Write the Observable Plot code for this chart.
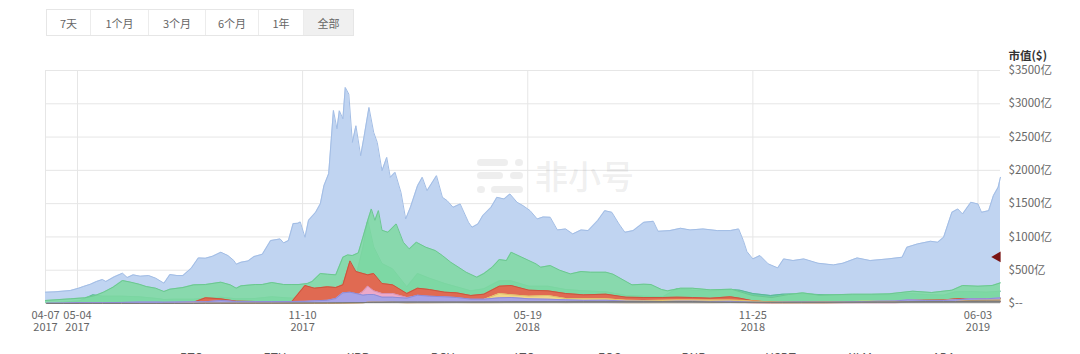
<!DOCTYPE html>
<html><head><meta charset="utf-8">
<script src="https://cdn.jsdelivr.net/npm/d3@7"></script>
<script src="https://cdn.jsdelivr.net/npm/@observablehq/plot@0.6"></script>
<style>
body{margin:0;width:1080px;height:354px;overflow:hidden;background:#fff;position:relative;font-family:"Noto Sans CJK SC","Microsoft YaHei",sans-serif}
.btns{position:absolute;left:46px;top:9px;height:27px;display:flex;border:1px solid #e6e6e6;box-sizing:border-box}
.btns div{height:100%;display:flex;align-items:center;justify-content:center;font-size:11px;color:#666;border-left:1px solid #ececec;box-sizing:border-box}
.btns div:first-child{border-left:none}
.btns div.on{background:#f0f0f0}
#chart{position:absolute;left:0;top:40px}
.wm{position:absolute;left:477px;top:156px;pointer-events:none;z-index:5}
.wm .t{position:absolute;left:58px;top:0;font-size:33px;line-height:38px;color:rgba(160,160,160,0.18);white-space:nowrap;font-weight:500}
.wm .b{position:absolute;height:7px;border-radius:4px;background:rgba(160,160,160,0.18)}
.legend{position:absolute;top:347px;left:0;width:1080px;height:20px}
.legend .it{position:absolute;display:flex;align-items:center;font-size:12px;line-height:16px;color:#555}
.legend .sw{width:12px;height:12px;margin-right:6px;border-radius:2px;margin-top:8px}
</style></head>
<body>
<div class="btns">
  <div style="width:43px">7天</div><div style="width:58px">1个月</div><div style="width:57px">3个月</div><div style="width:53px">6个月</div><div style="width:45px">1年</div><div class="on" style="width:50px">全部</div>
</div>
<div id="chart"></div>
<div class="wm">
  <div class="b" style="left:0;top:3px;width:31px"></div><div class="b" style="left:38px;top:3px;width:8px"></div>
  <div class="b" style="left:0;top:16px;width:26px"></div><div class="b" style="left:33px;top:16px;width:13px"></div>
  <div class="b" style="left:0;top:30px;width:8px"></div><div class="b" style="left:14px;top:30px;width:32px"></div>
  <div class="t">非小号</div>
</div>
<div class="legend" id="legend"></div>
<script>
// ---------- data ----------
const btcDates = ["2017-04-07","2017-04-15","2017-04-28","2017-05-05","2017-05-09","2017-05-15","2017-05-20","2017-05-25","2017-05-28","2017-06-04","2017-06-11","2017-06-15","2017-06-20","2017-06-26","2017-07-03","2017-07-09","2017-07-16","2017-07-21","2017-07-27","2017-08-01","2017-08-08","2017-08-14","2017-08-20","2017-08-26","2017-09-02","2017-09-08","2017-09-13","2017-09-15","2017-09-19","2017-09-25","2017-09-30","2017-10-07","2017-10-14","2017-10-22","2017-10-25","2017-10-29","2017-11-02","2017-11-06","2017-11-08","2017-11-12","2017-11-15","2017-11-21","2017-11-25","2017-11-28","2017-12-02","2017-12-06","2017-12-09","2017-12-11","2017-12-14","2017-12-16","2017-12-19","2017-12-22","2017-12-25","2017-12-29","2018-01-01","2018-01-05","2018-01-09","2018-01-12","2018-01-16","2018-01-20","2018-01-23","2018-01-27","2018-02-01","2018-02-05","2018-02-09","2018-02-15","2018-02-19","2018-02-23","2018-03-03","2018-03-08","2018-03-12","2018-03-17","2018-03-23","2018-03-30","2018-04-02","2018-04-07","2018-04-11","2018-04-18","2018-04-23","2018-04-29","2018-05-04","2018-05-10","2018-05-15","2018-05-21","2018-05-27","2018-06-01","2018-06-07","2018-06-13","2018-06-20","2018-06-26","2018-07-03","2018-07-09","2018-07-17","2018-07-23","2018-07-29","2018-08-04","2018-08-09","2018-08-16","2018-08-25","2018-09-02","2018-09-06","2018-09-16","2018-09-25","2018-10-03","2018-10-14","2018-10-26","2018-11-06","2018-11-13","2018-11-17","2018-11-20","2018-11-25","2018-12-01","2018-12-08","2018-12-16","2018-12-21","2018-12-29","2019-01-07","2019-01-19","2019-02-01","2019-02-09","2019-02-21","2019-03-04","2019-03-19","2019-03-31","2019-04-04","2019-04-13","2019-04-24","2019-04-30","2019-05-05","2019-05-12","2019-05-17","2019-05-21","2019-05-28","2019-06-03","2019-06-06","2019-06-12","2019-06-16","2019-06-20","2019-06-22"];
const btcCap = [170,175,195,230,255,290,330,360,330,400,455,390,430,410,420,380,305,435,420,420,530,685,680,710,770,720,645,590,620,640,705,740,945,970,910,945,1200,1205,1225,995,1250,1370,1500,1770,1950,2900,2625,2895,2775,3245,3145,2420,2670,2220,2520,2945,2570,2420,1995,2195,1895,1970,1670,1270,1445,1770,1895,1695,1920,1595,1545,1445,1495,1220,1145,1195,1320,1445,1595,1570,1645,1520,1470,1395,1270,1300,1295,1105,1120,1045,1105,1095,1245,1395,1370,1195,1070,1095,1220,1235,1085,1095,1130,1105,1120,1095,1095,1120,945,780,670,720,595,535,670,645,670,605,580,605,685,645,670,695,845,895,935,920,995,1370,1420,1345,1520,1495,1370,1395,1620,1745,1895];

const ethDates = ["2017-04-07","2017-04-28","2017-05-10","2017-05-19","2017-05-26","2017-06-03","2017-06-11","2017-06-18","2017-06-25","2017-07-01","2017-07-09","2017-07-16","2017-07-21","2017-08-01","2017-08-10","2017-08-20","2017-09-02","2017-09-10","2017-09-15","2017-09-19","2017-10-01","2017-10-07","2017-10-15","2017-10-25","2017-11-01","2017-11-07","2017-11-14","2017-11-18","2017-11-25","2017-12-01","2017-12-08","2017-12-14","2017-12-18","2017-12-22","2017-12-27","2017-12-31","2018-01-04","2018-01-07","2018-01-10","2018-01-13","2018-01-16","2018-01-21","2018-01-28","2018-02-03","2018-02-08","2018-02-14","2018-02-22","2018-03-02","2018-03-08","2018-03-15","2018-03-22","2018-03-28","2018-04-06","2018-04-12","2018-04-19","2018-04-25","2018-05-01","2018-05-05","2018-05-14","2018-05-26","2018-05-30","2018-06-07","2018-06-15","2018-06-24","2018-07-03","2018-07-11","2018-07-24","2018-07-30","2018-08-10","2018-08-15","2018-08-25","2018-08-31","2018-09-09","2018-09-14","2018-09-25","2018-10-05","2018-10-20","2018-11-07","2018-11-20","2018-11-25","2018-12-11","2018-12-25","2019-01-06","2019-01-20","2019-02-17","2019-03-05","2019-03-20","2019-04-09","2019-04-25","2019-05-12","2019-05-21","2019-06-03","2019-06-15","2019-06-22"];
const ethCap = [45,70,85,120,170,245,345,320,290,255,230,180,215,240,280,285,320,280,230,265,285,285,315,285,285,285,300,330,450,440,430,695,730,720,760,1000,1250,1420,1250,1395,1100,1070,1195,920,820,920,845,795,720,620,540,470,395,450,545,660,645,770,695,595,545,570,500,445,480,470,470,440,330,280,290,285,210,190,230,230,205,215,145,120,90,135,160,125,140,140,145,185,165,200,270,260,270,310];

const altDates = ["2017-04-08","2017-04-22","2017-05-06","2017-05-17","2017-05-25","2017-06-10","2017-06-25","2017-07-10","2017-07-16","2017-07-25","2017-08-10","2017-08-20","2017-09-02","2017-09-15","2017-10-01","2017-10-15","2017-11-01","2017-11-12","2017-11-20","2017-12-01","2017-12-08","2017-12-14","2017-12-20","2017-12-25","2017-12-31","2018-01-04","2018-01-09","2018-01-16","2018-01-25","2018-02-06","2018-02-15","2018-02-25","2018-03-10","2018-03-20","2018-04-01","2018-04-12","2018-04-25","2018-05-05","2018-05-20","2018-06-05","2018-06-20","2018-07-05","2018-07-24","2018-08-10","2018-08-25","2018-09-10","2018-09-22","2018-10-05","2018-10-20","2018-11-06","2018-11-14","2018-11-25","2018-12-10","2018-12-20","2019-01-05","2019-01-25","2019-02-10","2019-02-25","2019-03-10","2019-03-25","2019-04-05","2019-04-20","2019-05-05","2019-05-15","2019-05-28","2019-06-10","2019-06-22"];
const xrpCap = [12,20,40,130,110,110,100,75,60,65,65,80,95,70,75,100,80,80,90,95,90,350,300,400,850,1250,850,600,520,250,450,380,300,250,190,220,340,340,260,260,210,190,175,120,110,100,220,200,185,210,200,150,120,140,145,130,125,130,130,130,150,135,125,175,180,170,185];
const bchCap = [null,null,null,null,null,null,null,null,null,null,20,85,70,35,30,25,30,270,230,250,240,280,640,480,450,430,450,300,280,150,230,210,170,160,120,140,260,270,200,190,150,130,140,95,90,90,95,90,80,100,80,40,18,30,28,22,20,23,23,28,50,50,52,70,75,70,75];
const ltcCap = [5,7,15,13,13,16,22,22,20,22,25,26,45,30,28,30,30,32,40,48,75,160,170,150,125,135,135,95,95,80,125,110,100,90,65,65,85,90,70,65,55,47,50,35,32,30,35,35,31,32,28,18,15,20,22,19,21,27,35,38,55,45,45,55,70,70,85];
const eosCap = [null,null,null,null,null,null,null,15,10,12,20,15,20,12,12,10,8,9,15,18,25,35,55,50,55,80,90,80,90,50,60,70,50,45,40,60,150,130,110,120,75,70,70,48,45,48,52,53,50,50,45,30,17,25,25,22,25,32,32,33,48,45,45,55,65,60,70];
const bnbCap = [null,null,null,null,null,null,null,null,1,1,2,3,3,2,2,2,2,2,2,3,3,3,4,6,9,20,20,18,18,10,12,12,14,15,13,13,14,16,15,16,14,16,15,12,12,13,13,13,13,15,13,12,10,8,9,9,14,15,18,22,26,25,25,30,45,48,52];
const usdtCap = [1,1,1,1,1,1,1,1,1,1,1,3,4,4,5,5,6,7,8,9,10,11,13,13,14,16,17,18,21,22,22,22,22,22,22,23,24,25,25,26,26,27,27,27,27,28,28,28,21,18,18,18,18,18,19,19,20,20,21,21,25,28,28,28,32,33,33];
const xlmCap = [1,1,2,6,5,5,4,4,3,3,3,3,3,3,2,3,3,5,5,6,8,15,40,45,60,150,130,100,100,60,70,70,50,45,40,45,70,75,60,55,50,45,50,40,40,40,45,45,47,50,47,40,23,23,22,18,18,18,20,20,30,27,27,28,25,25,25];
const adaCap = [null,null,null,null,null,null,null,null,null,null,null,null,null,null,7,7,8,8,15,30,35,50,110,110,180,260,190,150,150,90,100,90,60,50,40,45,75,80,60,50,40,40,40,30,27,20,22,22,20,20,18,10,7,10,10,10,10,11,11,11,20,19,18,20,22,22,25];

const legendNames = ["BTC","ETH","XRP","BCH","LTC","EOS","BNB","USDT","XLM","ADA"];
const xTickDates = ["2017-04-07","2017-05-04","2017-11-10","2018-05-19","2018-11-25","2019-06-03"];
const yTicks = [0,500,1000,1500,2000,2500,3000,3500];
const xDomain = ["2017-04-07","2019-06-22"];
const yLabel = "市值($)";
const marker = {date: "2019-06-22", value: 700};

// ---------- build ----------
const parse = d3.utcParse("%Y-%m-%d");
const colors = {
  BTC: ["#c0d4f1", "#a2bde5"], ETH: ["#80d9a3", "#6bc790"], XRP: ["#6fcbab", "#5ab797"],
  BCH: ["#e06a52", "#c9553e"], LTC: ["#a7a3e6", "#8f8bd6"], EOS: ["#f2d789", "#dfc06c"],
  BNB: ["#d8b07c", "#c49a64"], USDT: ["#8f8f8f", "#777777"], XLM: ["#f3a76b", "#e0904f"], ADA: ["#eca9c9", "#d891b3"]
};
function rows(name, dates, vals) {
  return dates.map((d, i) => ({name, date: parse(d), value: vals[i]})).filter(r => r.value != null);
}
const series = [
  rows("BTC", btcDates, btcCap),
  rows("XRP", altDates, xrpCap),
  rows("ETH", ethDates, ethCap),
  rows("BCH", altDates, bchCap),
  rows("XLM", altDates, xlmCap),
  rows("ADA", altDates, adaCap),
  rows("EOS", altDates, eosCap),
  rows("LTC", altDates, ltcCap),
  rows("BNB", altDates, bnbCap),
  rows("USDT", altDates, usdtCap)
];
const tickDates = xTickDates.map(parse);
const marks = [
  Plot.gridY(yTicks, {stroke: "#e6e6e6", strokeOpacity: 1}),
  Plot.gridX(tickDates, {stroke: "#e6e6e6", strokeOpacity: 1})
];
for (const s of series) {
  const [f, st] = colors[s[0].name];
  marks.push(Plot.areaY(s, {x: "date", y: "value", fill: f, fillOpacity: s[0].name === "ETH" ? 0.88 : 1}));
  marks.push(Plot.lineY(s, {x: "date", y: "value", stroke: st, strokeWidth: 1}));
}
const fmtX = d3.utcFormat("%m-%d");
const fmtY = d3.utcFormat("%Y");
marks.push(
  Plot.axisX(tickDates, {tickSize: 0, tickPadding: 8, tickFormat: fmtX, fontSize: 11, color: "#666", label: null}),
  Plot.axisX(tickDates, {tickSize: 0, tickPadding: 20, tickFormat: fmtY, fontSize: 11, color: "#666", label: null}),
  Plot.axisY(yTicks, {anchor: "right", tickSize: 0, tickPadding: 8, tickFormat: d => d === 0 ? "$--" : "$" + d + "亿", fontSize: 11.5, color: "#666", label: null}),
  Plot.text([yLabel], {frameAnchor: "top-right", dx: 8, dy: -19, textAnchor: "start", fontWeight: "bold", fill: "#333", fontSize: 11.5}),
  Plot.dot([{date: parse(marker.date), value: marker.value}], {x: "date", y: "value", symbol: "triangle", rotate: -90, r: 4, fill: "#7a1414", dx: -3})
);
const chart = Plot.plot({
  width: 1080, height: 300,
  marginLeft: 45, marginRight: 80, marginTop: 30, marginBottom: 37,
  style: {fontFamily: '"Noto Sans CJK SC","Microsoft YaHei",sans-serif', background: "transparent", overflow: "visible"},
  x: {type: "utc", domain: xDomain.map(parse)},
  y: {domain: [0, 3500]},
  marks
});
document.getElementById("chart").appendChild(chart);

const lg = document.getElementById("legend");
legendNames.forEach((n, i) => {
  const it = document.createElement("div");
  it.className = "it";
  it.style.left = (162 + i * 83.6) + "px";
  it.innerHTML = `<span class="sw" style="background:${colors[n][0]}"></span><span>${n}</span>`;
  lg.appendChild(it);
});
</script>
</body></html>
